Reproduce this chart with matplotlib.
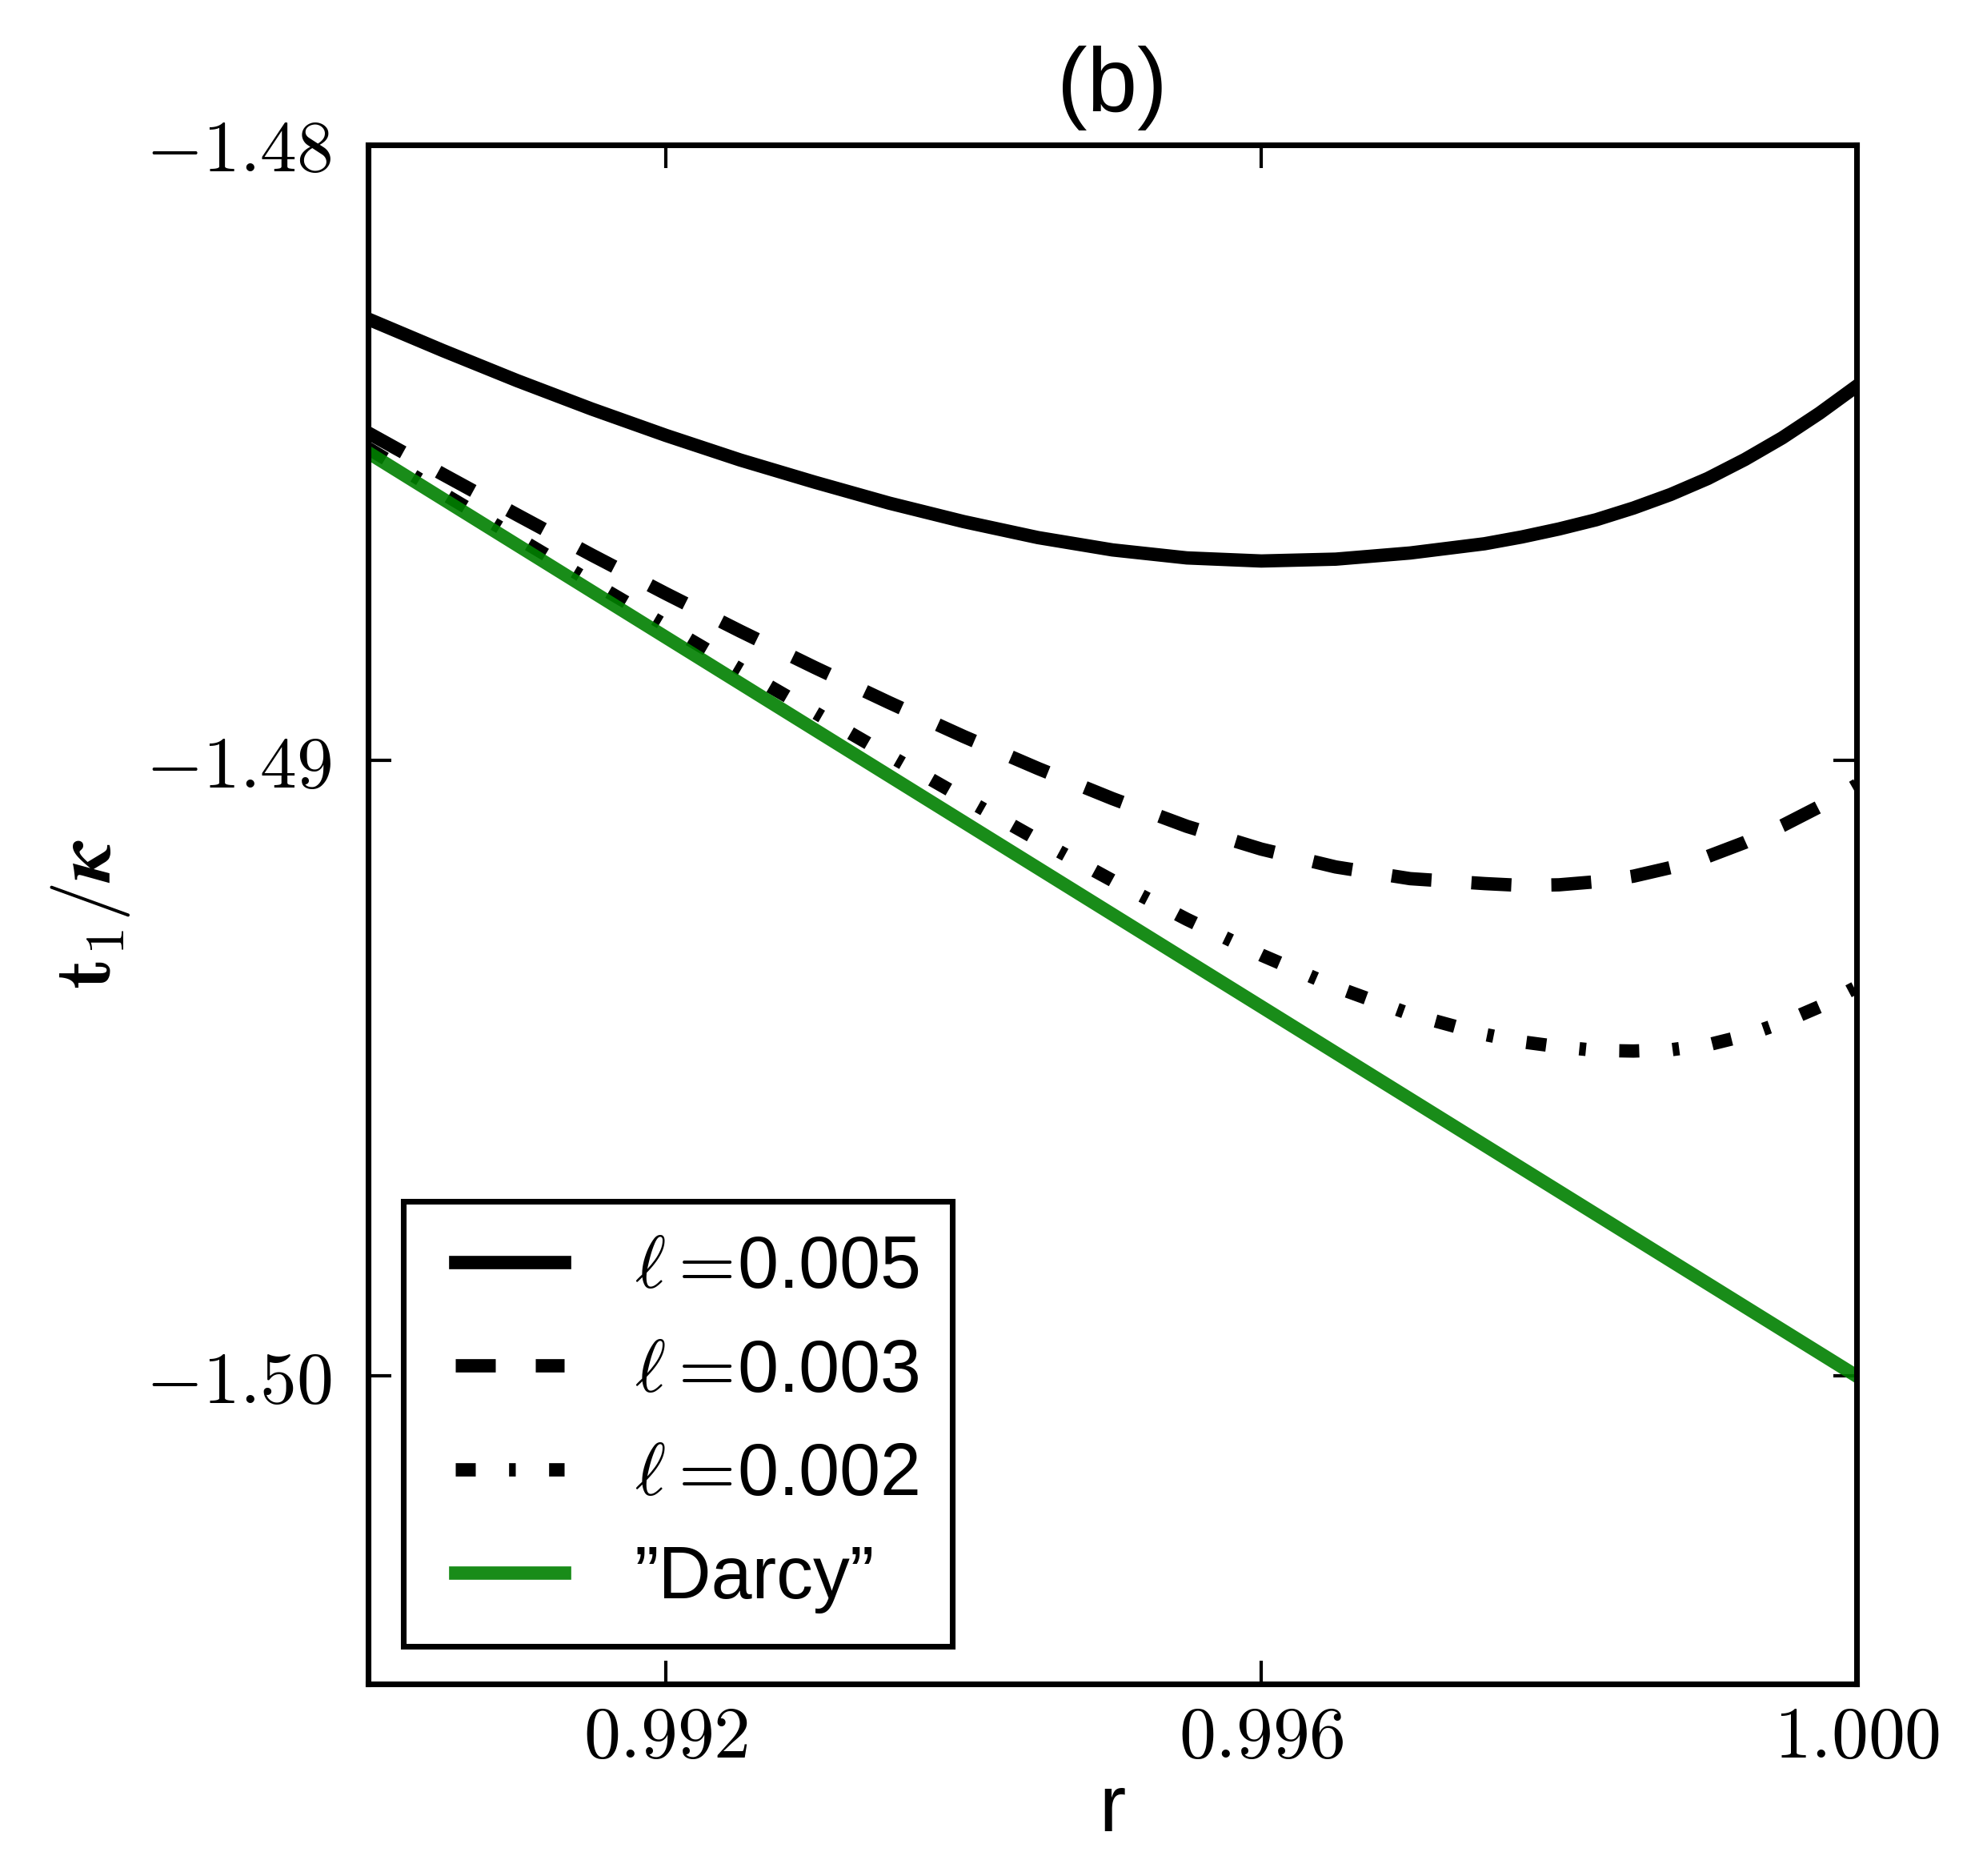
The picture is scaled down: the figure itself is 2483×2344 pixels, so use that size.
#!/usr/bin/env python3
"""Panel (b): t1/kappa near the wall for several l, with the Darcy line."""
import matplotlib
matplotlib.use("Agg")
import matplotlib.pyplot as plt
from matplotlib.lines import Line2D
from matplotlib.legend_handler import HandlerLine2D
from matplotlib.ticker import FuncFormatter

# values (finer spacing near the wall)
r = [0.9900, 0.9905, 0.9910, 0.9915, 0.9920, 0.9925, 0.9930, 0.9935,
     0.9940, 0.9945, 0.9950, 0.9955, 0.9960, 0.9965, 0.9970, 0.9975,
     0.99775, 0.9980, 0.99825, 0.9985, 0.99875, 0.9990, 0.99925,
     0.9995, 0.99975, 1.0000]

t_l005 = [-1.48283, -1.48334, -1.48383, -1.48429, -1.48472, -1.48512,
          -1.48548, -1.48582, -1.48612, -1.48638, -1.48658, -1.48671,
          -1.48676, -1.48673, -1.48663, -1.48648,
          -1.48637, -1.48624, -1.48609, -1.48590, -1.48568, -1.48542,
          -1.48511, -1.48476, -1.48436, -1.48392]

t_l003 = [-1.48468, -1.48535, -1.48601, -1.48666, -1.48729, -1.48790,
          -1.48849, -1.48906, -1.48961, -1.49013, -1.49062, -1.49107,
          -1.49144, -1.49173, -1.49192, -1.49200,
          -1.49203, -1.49202, -1.49197, -1.49188, -1.49174, -1.49156,
          -1.49133, -1.49106, -1.49075, -1.49040]

t_l002 = [-1.48493, -1.48566, -1.48638, -1.48710, -1.48781, -1.48852,
          -1.48922, -1.48992, -1.49061, -1.49129, -1.49195, -1.49258,
          -1.49316, -1.49368, -1.49412, -1.49445,
          -1.49457, -1.49465, -1.49471, -1.49472, -1.49470, -1.49462,
          -1.49447, -1.49426, -1.49400, -1.49368]

r_darcy = [0.990, 1.000]
t_darcy = [-1.485, -1.500]

labels = [r'$\ell=\!$0.005', r'$\ell=\!$0.003', r'$\ell=\!$0.002',
          '\u201dDarcy\u201d']
xticks = [0.992, 0.996, 1.000]
yticks = [-1.48, -1.49, -1.50]

plt.rcParams['font.family'] = ['Liberation Sans', 'DejaVu Sans']
plt.rcParams['mathtext.fontset'] = 'cm'
plt.rcParams['lines.scale_dashes'] = False

fig = plt.figure(figsize=(2483 / 600, 2344 / 600), dpi=600)
ax = fig.add_axes([0.1853, 0.1024, 0.7491, 0.8204])

ax.plot(r, t_l005, color='k', lw=2, label=labels[0])
ax.plot(r, t_l003, color='k', lw=2, dashes=(6, 6), label=labels[1])
ax.plot(r, t_l002, color='k', lw=2, dashes=(3, 5, 1, 5), label=labels[2])
ax.plot(r_darcy, t_darcy, color=(0, 0.5, 0), alpha=0.9, lw=2, label=labels[3])

ax.set_xlim(0.990, 1.000)
ax.set_ylim(-1.505, -1.48)
ax.set_xticks(xticks)
ax.set_yticks(yticks)
ax.xaxis.set_major_formatter(FuncFormatter(lambda v, _: f'${v:.3f}$'))
ax.yaxis.set_major_formatter(FuncFormatter(lambda v, _: f'${v:.2f}$'))
ax.tick_params(direction='in', top=True, right=True, length=3.5, width=0.5,
               labelsize=11)
ax.tick_params(axis='x', pad=3)
ax.tick_params(axis='y', pad=5.5)
for sp in ax.spines.values():
    sp.set_linewidth(0.85)

ax.set_xlabel('r', fontsize=12, labelpad=0)
ax.set_ylabel(r'$\mathbf{t_1}/\boldsymbol{\kappa}$', fontsize=12, labelpad=2)
ax.set_title('(b)', fontsize=13.5, pad=5)

# pad the legend handles a little on the left, as in the original
leg = ax.legend(loc='lower left', bbox_to_anchor=(44 / 1860, 47 / 1923),
                borderaxespad=0, fontsize=11, fancybox=False, framealpha=1,
                edgecolor='k', handlelength=2.0, handletextpad=0.7,
                labelspacing=0.47, borderpad=0.45,
                handler_map={Line2D: HandlerLine2D(marker_pad=0.26, numpoints=2)})
leg.get_frame().set_linewidth(0.85)

plt.savefig('out.png', dpi=600)
plt.close()
